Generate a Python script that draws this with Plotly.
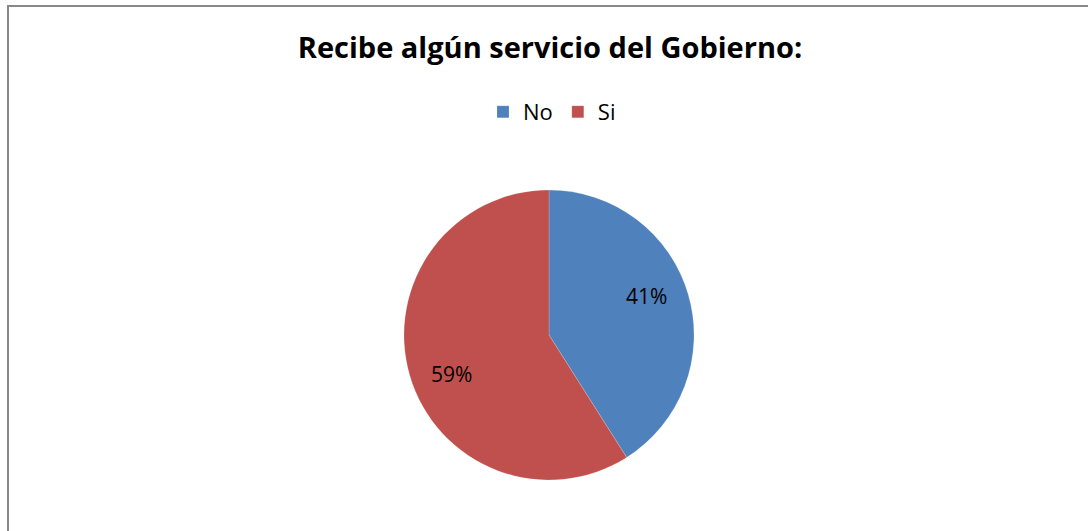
import math
import plotly.graph_objects as go

# Survey answers and their shares (%)
categories = ["No", "Si"]
shares = [41, 59]
colors = ["#4F81BD", "#C0504D"]

W, H = 1088, 531
cx, cy, r = 549, 335, 145  # pie centre and radius in pixels
label_radius = 0.725       # data labels sit at this fraction of the radius
label_shift = -5.5         # small angular nudge (degrees) of the data labels

fig = go.Figure(
    go.Pie(
        labels=categories,
        values=shares,
        marker=dict(colors=colors, line=dict(color="rgba(255,255,255,0.35)", width=0.5)),
        sort=False,
        direction="clockwise",
        rotation=0,
        textinfo="none",
        hoverinfo="label+percent",
        domain=dict(
            x=[(cx - r) / W, (cx + r) / W],
            y=[1 - (cy + r) / H, 1 - (cy - r) / H],
        ),
    )
)

# Percentage labels placed at each slice's mid-angle (clockwise from 12 o'clock)
annotations = []
total = sum(shares)
start = 0.0
for v in shares:
    sweep = 360.0 * v / total
    mid = math.radians(start + sweep / 2 + label_shift)
    px = cx + label_radius * r * math.sin(mid)
    py = cy - label_radius * r * math.cos(mid)
    annotations.append(
        dict(
            x=px / W,
            y=1 - py / H,
            xref="paper",
            yref="paper",
            text=f"{v}%",
            showarrow=False,
            xanchor="center",
            yanchor="middle",
            font=dict(family="Open Sans", size=21, color="#000000"),
        )
    )
    start += sweep

fig.update_layout(
    width=W,
    height=H,
    margin=dict(l=0, r=0, t=0, b=0),
    paper_bgcolor="#FFFFFF",
    plot_bgcolor="#FFFFFF",
    title=dict(
        text="<b>Recibe algún servicio del Gobierno:</b>",
        x=550 / W,
        xanchor="center",
        y=1 - 48 / H,
        yanchor="middle",
        font=dict(family="Open Sans", size=29, color="#000000"),
    ),
    legend=dict(
        orientation="h",
        x=552 / W,
        xanchor="center",
        y=1 - 112 / H,
        yanchor="middle",
        font=dict(family="Open Sans", size=22, color="#000000"),
        itemwidth=30,
    ),
    annotations=annotations,
    shapes=[
        dict(
            type="rect",
            xref="paper",
            yref="paper",
            x0=8 / W,
            x1=1.05,
            y0=-0.05,
            y1=1 - 6 / H,
            line=dict(color="#888888", width=2),
            fillcolor="rgba(0,0,0,0)",
            layer="above",
        )
    ],
)

fig.write_html("out.html")
